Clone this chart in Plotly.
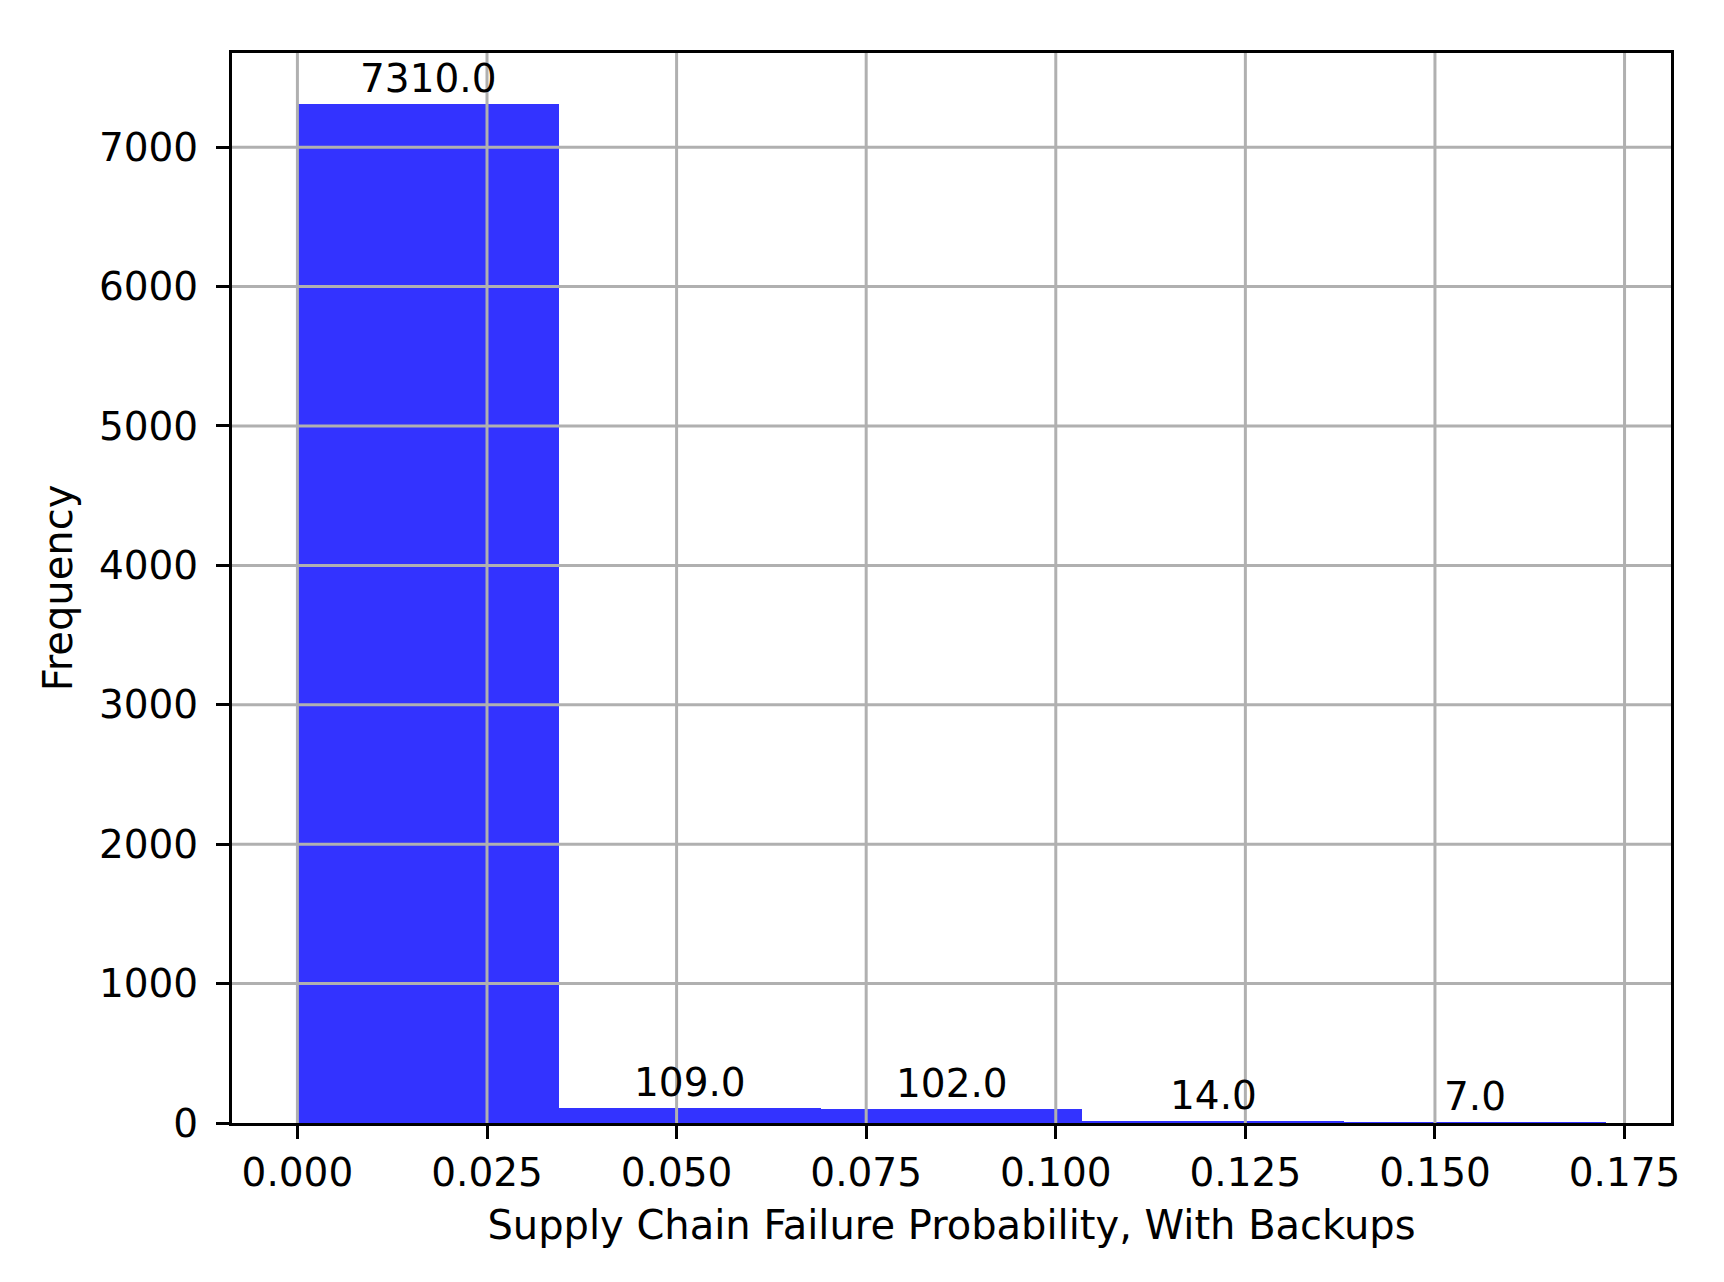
import plotly.graph_objects as go

# Histogram data
bin_edges = [0.0, 0.0345, 0.069, 0.1035, 0.138, 0.1725]
counts = [7310, 109, 102, 14, 7]
count_labels = ["7310.0", "109.0", "102.0", "14.0", "7.0"]

x_ticks = [0.0, 0.025, 0.05, 0.075, 0.1, 0.125, 0.15, 0.175]
x_tick_labels = ["0.000", "0.025", "0.050", "0.075", "0.100", "0.125", "0.150", "0.175"]
y_ticks = [0, 1000, 2000, 3000, 4000, 5000, 6000, 7000]
y_tick_labels = ["0", "1000", "2000", "3000", "4000", "5000", "6000", "7000"]

x_title = "Supply Chain Failure Probability, With Backups"
y_title = "Frequency"

centers = [(a + b) / 2 for a, b in zip(bin_edges[:-1], bin_edges[1:])]
widths = [b - a for a, b in zip(bin_edges[:-1], bin_edges[1:])]

span = bin_edges[-1] - bin_edges[0]
x_range = [bin_edges[0] - 0.05 * span, bin_edges[-1] + 0.05 * span]
y_range = [0, max(counts) * 1.05]

FONT = "DejaVu Sans"
FS = 39
FS_T = 40
GRID = "#b0b0b0"

fig = go.Figure()
fig.add_trace(go.Bar(
    x=centers, y=counts, width=widths,
    marker=dict(color="#3333ff", line=dict(width=0)),
    hoverinfo="x+y", showlegend=False,
))

for c, v, t in zip(centers, counts, count_labels):
    fig.add_annotation(x=c, y=v, text=t, showarrow=False, xanchor="center",
                       yanchor="bottom", yshift=1,
                       font=dict(family=FONT, size=FS, color="black"))

shapes = []
for xv in x_ticks:
    shapes.append(dict(type="line", xref="x", yref="paper", x0=xv, x1=xv, y0=0, y1=1,
                       line=dict(color=GRID, width=3), layer="above"))
for yv in y_ticks:
    if yv <= y_range[0]:
        continue
    shapes.append(dict(type="line", xref="paper", yref="y", x0=0, x1=1, y0=yv, y1=yv,
                       line=dict(color=GRID, width=3), layer="above"))
fig.update_layout(shapes=shapes)

# page body has an 8px default margin; compensate so plot area lands where it should
fig.update_layout(
    width=1716, height=1274,
    margin=dict(l=224, r=53, t=45, b=159),
    paper_bgcolor="white", plot_bgcolor="white",
    font=dict(family=FONT, size=FS, color="black"),
    bargap=0,
)
fig.update_xaxes(
    range=x_range, tickvals=x_ticks, ticktext=x_tick_labels,
    showgrid=False, zeroline=False,
    showline=True, linecolor="black", linewidth=3, mirror=True,
    ticks="outside", ticklen=13, tickwidth=3, tickcolor="black",
    tickfont=dict(family=FONT, size=FS, color="black"),
    title=dict(text=x_title, font=dict(family=FONT, size=FS_T, color="black"), standoff=18),
    layer="above traces",
)
fig.update_yaxes(
    range=y_range, tickvals=y_ticks, ticktext=y_tick_labels,
    showgrid=False, zeroline=False,
    showline=True, linecolor="black", linewidth=3, mirror=True,
    ticks="outside", ticklen=13, tickwidth=3, tickcolor="black",
    ticklabelstandoff=10,
    tickfont=dict(family=FONT, size=FS, color="black"),
    title=dict(text=y_title, font=dict(family=FONT, size=FS_T, color="black"), standoff=14),
    layer="above traces",
)

fig.write_html("out.html")
